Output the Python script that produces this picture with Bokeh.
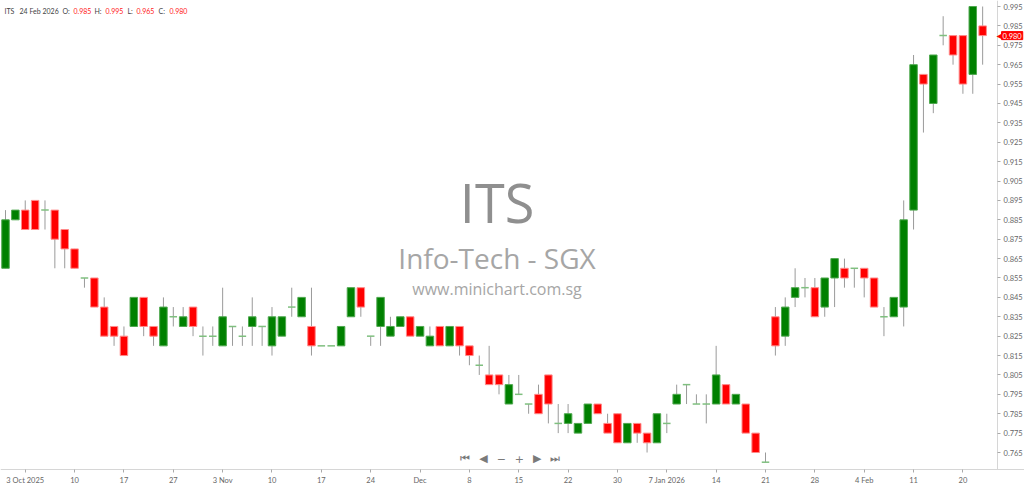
from bokeh.plotting import figure
from bokeh.models import Range1d, FixedTicker, Label, ColumnDataSource, PrintfTickFormatter
from bokeh.embed import file_html
from bokeh.resources import INLINE

# ---- data (ITS, daily, 1 Oct 2025 .. 24 Feb 2026, trading-day index) ----
opens = [0.86, 0.885, 0.89, 0.895, 0.89, 0.89, 0.88, 0.87, 0.855, 0.855,
         0.84, 0.83, 0.825, 0.83, 0.845, 0.83, 0.82, 0.835, 0.83, 0.84,
         0.825, 0.825, 0.82, 0.83, 0.825, 0.83, 0.83, 0.82, 0.825, 0.84,
         0.835, 0.83, 0.82, 0.82, 0.82, 0.835, 0.85, 0.825, 0.83, 0.825,
         0.83, 0.835, 0.825, 0.82, 0.83, 0.82, 0.83, 0.82, 0.81, 0.805,
         0.805, 0.79, 0.795, 0.79, 0.795, 0.805, 0.78, 0.78, 0.775, 0.78,
         0.79, 0.78, 0.785, 0.77, 0.78, 0.775, 0.77, 0.78, 0.79, 0.80,
         0.79, 0.79, 0.79, 0.80, 0.79, 0.79, 0.775, 0.76, 0.835, 0.825,
         0.845, 0.85, 0.85, 0.84, 0.855, 0.86, 0.86, 0.86, 0.855, 0.835,
         0.835, 0.84, 0.89, 0.96, 0.945, 0.98, 0.98, 0.98, 0.96, 0.985]
highs = [0.89, 0.89, 0.895, 0.895, 0.895, 0.89, 0.88, 0.87, 0.855, 0.855,
         0.845, 0.83, 0.83, 0.845, 0.845, 0.83, 0.845, 0.84, 0.84, 0.84,
         0.83, 0.83, 0.85, 0.83, 0.83, 0.845, 0.83, 0.84, 0.835, 0.85,
         0.845, 0.85, 0.82, 0.82, 0.83, 0.85, 0.85, 0.825, 0.845, 0.835,
         0.835, 0.835, 0.83, 0.83, 0.83, 0.83, 0.83, 0.82, 0.815, 0.82,
         0.805, 0.805, 0.805, 0.79, 0.80, 0.805, 0.79, 0.79, 0.78, 0.79,
         0.79, 0.785, 0.785, 0.78, 0.78, 0.775, 0.785, 0.785, 0.80, 0.80,
         0.795, 0.795, 0.82, 0.80, 0.795, 0.79, 0.775, 0.765, 0.84, 0.845,
         0.86, 0.855, 0.855, 0.855, 0.865, 0.865, 0.86, 0.86, 0.855, 0.84,
         0.845, 0.895, 0.97, 0.96, 0.97, 0.99, 0.98, 0.98, 0.995, 0.995]
lows = [0.86, 0.885, 0.88, 0.88, 0.88, 0.86, 0.86, 0.86, 0.85, 0.84,
        0.825, 0.82, 0.815, 0.83, 0.825, 0.82, 0.82, 0.83, 0.83, 0.825,
        0.815, 0.82, 0.82, 0.82, 0.82, 0.82, 0.82, 0.815, 0.825, 0.835,
        0.835, 0.815, 0.82, 0.82, 0.82, 0.835, 0.835, 0.82, 0.82, 0.825,
        0.83, 0.825, 0.825, 0.82, 0.82, 0.82, 0.815, 0.81, 0.805, 0.80,
        0.795, 0.79, 0.795, 0.785, 0.785, 0.78, 0.775, 0.775, 0.775, 0.78,
        0.785, 0.775, 0.77, 0.77, 0.77, 0.765, 0.77, 0.775, 0.79, 0.79,
        0.79, 0.78, 0.79, 0.79, 0.79, 0.775, 0.765, 0.76, 0.815, 0.82,
        0.84, 0.845, 0.835, 0.835, 0.84, 0.85, 0.85, 0.845, 0.84, 0.825,
        0.835, 0.83, 0.88, 0.93, 0.94, 0.975, 0.965, 0.95, 0.95, 0.965]
closes = [0.885, 0.89, 0.88, 0.88, 0.89, 0.875, 0.87, 0.86, 0.855, 0.84,
          0.825, 0.825, 0.815, 0.845, 0.83, 0.825, 0.84, 0.835, 0.835, 0.83,
          0.825, 0.825, 0.835, 0.83, 0.825, 0.835, 0.83, 0.835, 0.835, 0.84,
          0.845, 0.82, 0.82, 0.82, 0.83, 0.85, 0.84, 0.825, 0.845, 0.83,
          0.835, 0.825, 0.83, 0.825, 0.82, 0.83, 0.82, 0.815, 0.81, 0.80,
          0.80, 0.80, 0.795, 0.79, 0.785, 0.79, 0.78, 0.785, 0.78, 0.79,
          0.785, 0.775, 0.77, 0.78, 0.775, 0.77, 0.785, 0.78, 0.795, 0.80,
          0.79, 0.79, 0.805, 0.79, 0.795, 0.775, 0.765, 0.76, 0.82, 0.84,
          0.85, 0.85, 0.835, 0.855, 0.865, 0.855, 0.86, 0.855, 0.84, 0.835,
          0.845, 0.885, 0.965, 0.955, 0.97, 0.98, 0.97, 0.955, 0.995, 0.98]

x_tick_index = [2, 7, 12, 17, 22, 27, 32, 37, 42, 47, 52, 57, 62, 67, 72, 77, 82, 87, 92, 97]
x_tick_labels = ["3 Oct 2025", "10", "17", "27", "3 Nov", "10", "17", "24", "Dec", "8",
                 "15", "22", "30", "7 Jan 2026", "14", "21", "28", "4 Feb", "11", "20"]
y_ticks = [0.765, 0.775, 0.785, 0.795, 0.805, 0.815, 0.825, 0.835, 0.845, 0.855, 0.865, 0.875,
           0.885, 0.895, 0.905, 0.915, 0.925, 0.935, 0.945, 0.955, 0.965, 0.975, 0.985, 0.995]

symbol = "ITS"
name = "Info-Tech - SGX"
site = "www.minichart.com.sg"
last_date = "24 Feb 2026"

# ---- layout constants (data space) ----
X_LO, X_HI = -0.507, 103.24      # full canvas width
Y_LO, Y_HI = 0.7485, 0.9981      # full canvas height
Y_AXIS_AT = 100.51               # price axis position
X_AXIS_AT = 0.7562               # time axis position

# ---- derived ----
idx = list(range(len(opens)))
GREEN, GREEN_EDGE = "#008000", "#4fa84f"
RED, RED_EDGE = "#ff0000", "#ff8a8a"
up = dict(x=[], top=[], bottom=[])
dn = dict(x=[], top=[], bottom=[])
dj = dict(x=[], y=[])
for i, o, c in zip(idx, opens, closes):
    if abs(o - c) < 1e-9:
        dj["x"].append(i); dj["y"].append(o)
    elif c > o:
        up["x"].append(i); up["top"].append(c); up["bottom"].append(o)
    else:
        dn["x"].append(i); dn["top"].append(o); dn["bottom"].append(c)

FONT = "Lato"
p = figure(width=1024, height=484, output_backend="svg", toolbar_location=None,
           x_range=Range1d(X_LO, X_HI), y_range=Range1d(Y_LO, Y_HI),
           y_axis_location="right", min_border=0)
p.grid.visible = False
p.outline_line_color = None
p.background_fill_color = "white"
p.border_fill_color = "white"

# watermark
p.add_layout(Label(x=49.8, y=0.8944, text=symbol, text_align="center", text_baseline="middle",
                   text_font="Open Sans", text_font_size="54px", text_color="#8f8f8f"))
p.add_layout(Label(x=49.8, y=0.8652, text=name, text_align="center", text_baseline="middle",
                   text_font="Open Sans", text_font_size="28px", text_color="#a6a6a6"))
p.add_layout(Label(x=49.8, y=0.8493, text=site, text_align="center", text_baseline="middle",
                   text_font="Open Sans", text_font_size="16px", text_color="#a6a6a6"))

# candles
p.segment(x0=idx, y0=lows, x1=idx, y1=highs, line_color="#9a9a9a", line_width=1)
p.vbar(x="x", top="top", bottom="bottom", width=0.76, source=ColumnDataSource(up),
       fill_color=GREEN, line_color=GREEN_EDGE, line_width=1)
p.vbar(x="x", top="top", bottom="bottom", width=0.76, source=ColumnDataSource(dn),
       fill_color=RED, line_color=RED_EDGE, line_width=1)
djx0 = [v - 0.38 for v in dj["x"]]
djx1 = [v + 0.38 for v in dj["x"]]
p.segment(x0=djx0, y0=dj["y"], x1=djx1, y1=dj["y"], line_color="#7fbf7f", line_width=1.5)

# axes (placed inside the canvas at fixed positions)
for ax in (p.yaxis[0], p.xaxis[0]):
    ax.axis_label = None
    ax.axis_line_color = "#d6d6d6"
    ax.major_tick_line_color = "#aaaaaa"
    ax.major_tick_out = 3
    ax.major_tick_in = 0
    ax.minor_tick_line_color = None
    ax.major_label_text_font = FONT
    ax.major_label_text_font_size = "7.5px"
    ax.major_label_text_color = "#666666"
ya = p.yaxis[0]
ya.fixed_location = Y_AXIS_AT
ya.bounds = (X_AXIS_AT, Y_HI)
ya.ticker = FixedTicker(ticks=y_ticks)
ya.formatter = PrintfTickFormatter(format="%.3f")
ya.major_label_standoff = 3
xa = p.xaxis[0]
xa.fixed_location = X_AXIS_AT
xa.ticker = FixedTicker(ticks=x_tick_index)
xa.major_label_overrides = {t: l for t, l in zip(x_tick_index, x_tick_labels)}
xa.major_label_standoff = 3

# last price tag
p.add_layout(Label(x=Y_AXIS_AT, y=closes[-1], text="\u25c0", text_align="left",
                   text_baseline="middle", text_font="DejaVu Sans", text_font_size="10px",
                   text_color=RED, x_offset=-1, level="overlay"))
p.add_layout(Label(x=Y_AXIS_AT, y=closes[-1], text="%.3f" % closes[-1], text_align="left",
                   text_baseline="middle", text_font=FONT, text_font_size="7.5px",
                   text_color="white", x_offset=4, level="overlay",
                   background_fill_color=RED, background_fill_alpha=1.0,
                   border_line_color=RED, padding=1))

# header
hdr = [(4, symbol, "#444444"), (19, last_date, "#444444"),
       (62, "O:", "#444444"), (73, "%.3f" % opens[-1], "#ff2020"),
       (94, "H:", "#444444"), (105, "%.3f" % highs[-1], "#ff2020"),
       (127, "L:", "#444444"), (136, "%.3f" % lows[-1], "#ff2020"),
       (158, "C:", "#444444"), (169, "%.3f" % closes[-1], "#ff2020")]
for sx, t, col in hdr:
    p.add_layout(Label(x=sx, x_units="screen", y=0.9929, text=t, text_align="left",
                       text_baseline="middle", text_font=FONT, text_font_size="7px",
                       text_color=col))

# navigation buttons
nav = ["\u23ee", "\u25c0", "\u2212", "+", "\u25b6", "\u23ed"]
for k, t in enumerate(nav):
    p.add_layout(Label(x=46.6 + 1.82 * k, y=0.7618, text=t, text_align="center",
                       text_baseline="middle", text_font="DejaVu Sans", text_font_size="11px",
                       text_color="#7a7a7a"))

open("out.html", "w").write(file_html(p, INLINE))
